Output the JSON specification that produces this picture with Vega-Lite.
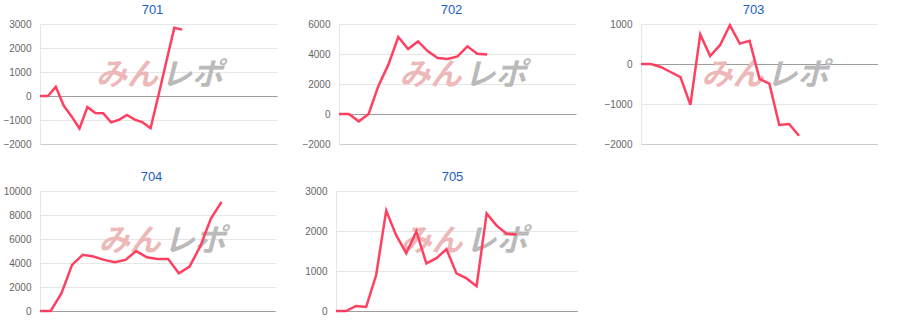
{
  "$schema": "https://vega.github.io/schema/vega-lite/v6.json",
  "padding": {"top": 4, "left": 0, "right": 0, "bottom": 0},
  "config": {
    "view": {"stroke": null},
    "font": "Liberation Sans",
    "title": {"fontSize": 13, "fontWeight": "normal", "color": "#1a5dc8", "anchor": "middle", "frame": "group", "offset": 2, "dx": -6, "font": "Liberation Sans"},
    "axisY": {"ticks": false, "tickSize": 0, "tickCount": 20, "labelPadding": 9, "labelFontSize": 10, "labelColor": "#666666", "labelFont": "Liberation Sans", "labelOverlap": false, "labelFlush": false, "format": "d", "domainColor": "#e6e6e6", "title": null, "gridColor": {"condition": {"test": "datum.value === 0", "value": "#9e9e9e"}, "value": "#e6e6e6"}},
    "axisX": {"labels": false, "ticks": false, "grid": false, "title": null, "domain": true, "domainColor": "#cccccc"}
  },
  "datasets": {
    "p701": [
      {"idx": 0, "value": 0}, {"idx": 1, "value": 0}, {"idx": 2, "value": 380}, {"idx": 3, "value": -400},
      {"idx": 4, "value": -850}, {"idx": 5, "value": -1350}, {"idx": 6, "value": -460}, {"idx": 7, "value": -710},
      {"idx": 8, "value": -720}, {"idx": 9, "value": -1100}, {"idx": 10, "value": -990}, {"idx": 11, "value": -790},
      {"idx": 12, "value": -985}, {"idx": 13, "value": -1100}, {"idx": 14, "value": -1340}, {"idx": 15, "value": 30},
      {"idx": 16, "value": 1450}, {"idx": 17, "value": 2840}, {"idx": 18, "value": 2765}
    ],
    "p702": [
      {"idx": 0, "value": 0}, {"idx": 1, "value": 0}, {"idx": 2, "value": -490}, {"idx": 3, "value": 0},
      {"idx": 4, "value": 1890}, {"idx": 5, "value": 3290}, {"idx": 6, "value": 5130}, {"idx": 7, "value": 4330},
      {"idx": 8, "value": 4840}, {"idx": 9, "value": 4180}, {"idx": 10, "value": 3730}, {"idx": 11, "value": 3670},
      {"idx": 12, "value": 3840}, {"idx": 13, "value": 4510}, {"idx": 14, "value": 4020}, {"idx": 15, "value": 3960}
    ],
    "p703": [
      {"idx": 0, "value": 0}, {"idx": 1, "value": 0}, {"idx": 2, "value": -75}, {"idx": 3, "value": -200},
      {"idx": 4, "value": -330}, {"idx": 5, "value": -1020}, {"idx": 6, "value": 740}, {"idx": 7, "value": 200},
      {"idx": 8, "value": 470}, {"idx": 9, "value": 970}, {"idx": 10, "value": 510}, {"idx": 11, "value": 580},
      {"idx": 12, "value": -370}, {"idx": 13, "value": -490}, {"idx": 14, "value": -1525}, {"idx": 15, "value": -1500},
      {"idx": 16, "value": -1795}
    ],
    "p704": [
      {"idx": 0, "value": 0}, {"idx": 1, "value": 0}, {"idx": 2, "value": 1460}, {"idx": 3, "value": 3840},
      {"idx": 4, "value": 4680}, {"idx": 5, "value": 4540}, {"idx": 6, "value": 4260}, {"idx": 7, "value": 4060},
      {"idx": 8, "value": 4260}, {"idx": 9, "value": 4990}, {"idx": 10, "value": 4480}, {"idx": 11, "value": 4340},
      {"idx": 12, "value": 4340}, {"idx": 13, "value": 3140}, {"idx": 14, "value": 3700}, {"idx": 15, "value": 5380},
      {"idx": 16, "value": 7700}, {"idx": 17, "value": 9100}
    ],
    "p705": [
      {"idx": 0, "value": 0}, {"idx": 1, "value": 0}, {"idx": 2, "value": 125}, {"idx": 3, "value": 100},
      {"idx": 4, "value": 900}, {"idx": 5, "value": 2510}, {"idx": 6, "value": 1890}, {"idx": 7, "value": 1445},
      {"idx": 8, "value": 1990}, {"idx": 9, "value": 1190}, {"idx": 10, "value": 1320}, {"idx": 11, "value": 1545},
      {"idx": 12, "value": 940}, {"idx": 13, "value": 815}, {"idx": 14, "value": 620}, {"idx": 15, "value": 2440},
      {"idx": 16, "value": 2135}, {"idx": 17, "value": 1930}, {"idx": 18, "value": 1910}
    ],
    "logo1": [{"logo": "みん"}],
    "logo2": [{"logo": "レポ"}]
  },
  "spacing": 22,
  "vconcat": [
    {
      "spacing": 20,
      "hconcat": [
        {
          "title": {"text": "701"},
          "width": 237, "height": 120,
          "layer": [
            {"data": {"name": "p701"}, "mark": {"type": "line", "color": "#ff4060", "strokeWidth": 2.5, "opacity": 0},
             "encoding": {"x": {"field": "idx", "type": "quantitative", "scale": {"domain": [0, 30]}, "axis": {}},
                          "y": {"field": "value", "type": "quantitative", "scale": {"domain": [-2000, 3000], "nice": false, "zero": false}, "axis": {"values": [-2000, -1000, 0, 1000, 2000, 3000], "tickCount": 20, "minExtent": 39.3, "maxExtent": 39.3}}}},
            {"data": {"name": "logo1"}, "mark": {"type": "text", "align": "right", "dx": -2, "baseline": "middle", "fontSize": 31, "fontWeight": "bold", "fontStyle": "italic", "font": "Noto Sans CJK JP", "color": "#ecb8b8"},
             "encoding": {"x": {"datum": 15.2, "type": "quantitative"}, "y": {"datum": 846, "type": "quantitative"}, "text": {"field": "logo"}}},
            {"data": {"name": "logo2"}, "mark": {"type": "text", "align": "left", "dx": 1, "baseline": "middle", "fontSize": 31, "fontWeight": "bold", "fontStyle": "italic", "font": "Noto Sans CJK JP", "color": "#bababa"},
             "encoding": {"x": {"datum": 15.2, "type": "quantitative"}, "y": {"datum": 846, "type": "quantitative"}, "text": {"field": "logo"}}},
            {"data": {"name": "p701"}, "mark": {"type": "line", "color": "#ff4060", "strokeWidth": 2.5},
             "encoding": {"x": {"field": "idx", "type": "quantitative"}, "y": {"field": "value", "type": "quantitative"}}}
          ]
        },
        {
          "title": {"text": "702"},
          "width": 237, "height": 120,
          "layer": [
            {"data": {"name": "p702"}, "mark": {"type": "line", "color": "#ff4060", "strokeWidth": 2.5, "opacity": 0},
             "encoding": {"x": {"field": "idx", "type": "quantitative", "scale": {"domain": [0, 24]}, "axis": {}},
                          "y": {"field": "value", "type": "quantitative", "scale": {"domain": [-2000, 6000], "nice": false, "zero": false}, "axis": {"values": [-2000, 0, 2000, 4000, 6000], "tickCount": 20, "minExtent": 41.4, "maxExtent": 41.4}}}},
            {"data": {"name": "logo1"}, "mark": {"type": "text", "align": "right", "dx": -2, "baseline": "middle", "fontSize": 31, "fontWeight": "bold", "fontStyle": "italic", "font": "Noto Sans CJK JP", "color": "#ecb8b8"},
             "encoding": {"x": {"datum": 12.6, "type": "quantitative"}, "y": {"datum": 2553, "type": "quantitative"}, "text": {"field": "logo"}}},
            {"data": {"name": "logo2"}, "mark": {"type": "text", "align": "left", "dx": 1, "baseline": "middle", "fontSize": 31, "fontWeight": "bold", "fontStyle": "italic", "font": "Noto Sans CJK JP", "color": "#bababa"},
             "encoding": {"x": {"datum": 12.6, "type": "quantitative"}, "y": {"datum": 2553, "type": "quantitative"}, "text": {"field": "logo"}}},
            {"data": {"name": "p702"}, "mark": {"type": "line", "color": "#ff4060", "strokeWidth": 2.5},
             "encoding": {"x": {"field": "idx", "type": "quantitative"}, "y": {"field": "value", "type": "quantitative"}}}
          ]
        },
        {
          "title": {"text": "703"},
          "width": 237, "height": 120,
          "layer": [
            {"data": {"name": "p703"}, "mark": {"type": "line", "color": "#ff4060", "strokeWidth": 2.5, "opacity": 0},
             "encoding": {"x": {"field": "idx", "type": "quantitative", "scale": {"domain": [0, 24]}, "axis": {}},
                          "y": {"field": "value", "type": "quantitative", "scale": {"domain": [-2000, 1000], "nice": false, "zero": false}, "axis": {"values": [-2000, -1000, 0, 1000], "tickCount": 20, "minExtent": 44.6, "maxExtent": 44.6}}}},
            {"data": {"name": "logo1"}, "mark": {"type": "text", "align": "right", "dx": -2, "baseline": "middle", "fontSize": 31, "fontWeight": "bold", "fontStyle": "italic", "font": "Noto Sans CJK JP", "color": "#ecb8b8"},
             "encoding": {"x": {"datum": 12.6, "type": "quantitative"}, "y": {"datum": -305, "type": "quantitative"}, "text": {"field": "logo"}}},
            {"data": {"name": "logo2"}, "mark": {"type": "text", "align": "left", "dx": 1, "baseline": "middle", "fontSize": 31, "fontWeight": "bold", "fontStyle": "italic", "font": "Noto Sans CJK JP", "color": "#bababa"},
             "encoding": {"x": {"datum": 12.6, "type": "quantitative"}, "y": {"datum": -305, "type": "quantitative"}, "text": {"field": "logo"}}},
            {"data": {"name": "p703"}, "mark": {"type": "line", "color": "#ff4060", "strokeWidth": 2.5},
             "encoding": {"x": {"field": "idx", "type": "quantitative"}, "y": {"field": "value", "type": "quantitative"}}}
          ]
        }
      ]
    },
    {
      "spacing": 20,
      "hconcat": [
        {
          "title": {"text": "704"},
          "width": 235, "height": 120,
          "layer": [
            {"data": {"name": "p704"}, "mark": {"type": "line", "color": "#ff4060", "strokeWidth": 2.5, "opacity": 0},
             "encoding": {"x": {"field": "idx", "type": "quantitative", "scale": {"domain": [0, 22]}, "axis": {"domainColor": "#9e9e9e"}},
                          "y": {"field": "value", "type": "quantitative", "scale": {"domain": [0, 10000], "nice": false, "zero": false}, "axis": {"values": [0, 2000, 4000, 6000, 8000, 10000], "tickCount": 20, "minExtent": 39.3, "maxExtent": 39.3}}}},
            {"data": {"name": "logo1"}, "mark": {"type": "text", "align": "right", "dx": -2, "baseline": "middle", "fontSize": 31, "fontWeight": "bold", "fontStyle": "italic", "font": "Noto Sans CJK JP", "color": "#ecb8b8"},
             "encoding": {"x": {"datum": 11.5, "type": "quantitative"}, "y": {"datum": 5733, "type": "quantitative"}, "text": {"field": "logo"}}},
            {"data": {"name": "logo2"}, "mark": {"type": "text", "align": "left", "dx": 1, "baseline": "middle", "fontSize": 31, "fontWeight": "bold", "fontStyle": "italic", "font": "Noto Sans CJK JP", "color": "#bababa"},
             "encoding": {"x": {"datum": 11.5, "type": "quantitative"}, "y": {"datum": 5733, "type": "quantitative"}, "text": {"field": "logo"}}},
            {"data": {"name": "p704"}, "mark": {"type": "line", "color": "#ff4060", "strokeWidth": 2.5},
             "encoding": {"x": {"field": "idx", "type": "quantitative"}, "y": {"field": "value", "type": "quantitative"}}}
          ]
        },
        {
          "title": {"text": "705", "dx": -4},
          "width": 241, "height": 120,
          "layer": [
            {"data": {"name": "p705"}, "mark": {"type": "line", "color": "#ff4060", "strokeWidth": 2.5, "opacity": 0},
             "encoding": {"x": {"field": "idx", "type": "quantitative", "scale": {"domain": [0, 24]}, "axis": {"domainColor": "#9e9e9e"}},
                          "y": {"field": "value", "type": "quantitative", "scale": {"domain": [0, 3000], "nice": false, "zero": false}, "axis": {"values": [0, 1000, 2000, 3000], "tickCount": 20, "minExtent": 41, "maxExtent": 41}}}},
            {"data": {"name": "logo1"}, "mark": {"type": "text", "align": "right", "dx": -2, "baseline": "middle", "fontSize": 31, "fontWeight": "bold", "fontStyle": "italic", "font": "Noto Sans CJK JP", "color": "#ecb8b8"},
             "encoding": {"x": {"datum": 12.8, "type": "quantitative"}, "y": {"datum": 1720, "type": "quantitative"}, "text": {"field": "logo"}}},
            {"data": {"name": "logo2"}, "mark": {"type": "text", "align": "left", "dx": 1, "baseline": "middle", "fontSize": 31, "fontWeight": "bold", "fontStyle": "italic", "font": "Noto Sans CJK JP", "color": "#bababa"},
             "encoding": {"x": {"datum": 12.8, "type": "quantitative"}, "y": {"datum": 1720, "type": "quantitative"}, "text": {"field": "logo"}}},
            {"data": {"name": "p705"}, "mark": {"type": "line", "color": "#ff4060", "strokeWidth": 2.5},
             "encoding": {"x": {"field": "idx", "type": "quantitative"}, "y": {"field": "value", "type": "quantitative"}}}
          ]
        }
      ]
    }
  ]
}
